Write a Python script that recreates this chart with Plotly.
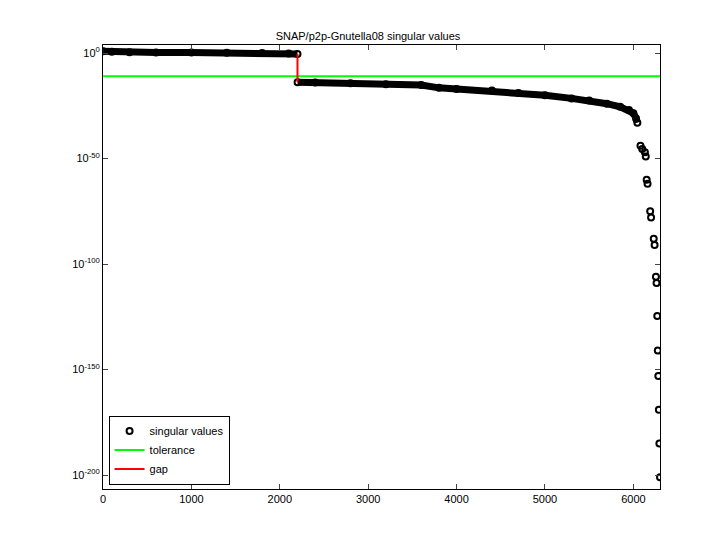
import plotly.graph_objects as go

# dense part of singular values (index, log10 value)
dense_idx = [1, 100, 300, 600, 1000, 1400, 1800, 2100, 2200,
             2201, 2400, 2800, 3200, 3600, 3800, 4000, 4400, 4700, 5000,
             5300, 5500, 5700, 5850, 5950, 6000, 6030, 6045]
dense_log = [0.8, 0.6, 0.4, 0.3, 0.2, 0.1, 0.0, -0.2, -0.5,
             -13.8, -14.0, -14.3, -14.8, -15.2, -16.5, -17.0, -17.8, -19.0, -20.0,
             -21.5, -22.5, -24.0, -25.5, -27.0, -28.5, -31.0, -33.0]
# tail clusters
tail_idx = [6080, 6100, 6130, 6140, 6150, 6160, 6190, 6200, 6230, 6240, 6255, 6262,
            6270, 6276, 6282, 6288, 6294, 6301]
tail_log = [-44, -45.5, -47, -49, -60, -62, -75, -78, -88, -91, -106, -109,
            -124.6, -141, -153, -169, -185, -201]
tolerance_log = -11
gap_idx = 2200
gap_log = [-0.5, -13.8]

dense_y = [10.0 ** v for v in dense_log]
tail_y = [10.0 ** v for v in tail_log]

fig = go.Figure()
fig.add_trace(go.Scatter(x=dense_idx[:9], y=dense_y[:9], mode="lines",
                         line=dict(color="black", width=7), showlegend=False))
fig.add_trace(go.Scatter(x=dense_idx[9:], y=dense_y[9:], mode="lines",
                         line=dict(color="black", width=7), showlegend=False))
fig.add_trace(go.Scatter(x=dense_idx + tail_idx, y=dense_y + tail_y, mode="markers",
                         name="singular values",
                         marker=dict(symbol="circle-open", color="black", size=6,
                                     line=dict(width=2))))
fig.add_trace(go.Scatter(x=[0, 6301], y=[10.0 ** tolerance_log] * 2, mode="lines",
                         name="tolerance", line=dict(color="#00ff00", width=2)))
fig.add_trace(go.Scatter(x=[gap_idx, gap_idx], y=[10.0 ** v for v in gap_log], mode="lines",
                         name="gap", line=dict(color="red", width=2)))

ytv = [0, -50, -100, -150, -200]
fig.update_layout(
    width=720, height=540, template="none",
    paper_bgcolor="white", plot_bgcolor="white",
    margin=dict(l=95, r=68, t=37, b=59, autoexpand=False),
    font=dict(family="Liberation Sans, Arial", size=11, color="black"),
    title=dict(text="SNAP/p2p-Gnutella08 singular values", x=0.5, xanchor="center",
               y=0.94, yanchor="bottom", font=dict(size=11)),
    xaxis=dict(range=[0, 6301], tickvals=[0, 1000, 2000, 3000, 4000, 5000, 6000],
               ticks="inside", ticklen=5, mirror="allticks", showline=True, automargin=False,
               linecolor="black", linewidth=1, showgrid=False, zeroline=False),
    yaxis=dict(type="log", range=[-206.6, 3.8], tickvals=[10.0 ** v for v in ytv],
               ticktext=["10<sup>%d</sup>" % v for v in ytv], automargin=False,
               ticks="inside", ticklen=5, mirror="allticks", showline=True,
               linecolor="black", linewidth=1, showgrid=False, zeroline=False),
    legend=dict(x=0.01, y=0.01, xanchor="left", yanchor="bottom",
                bordercolor="black", borderwidth=1, bgcolor="white",
                font=dict(size=11), tracegroupgap=0),
)
fig.write_html("out.html")
